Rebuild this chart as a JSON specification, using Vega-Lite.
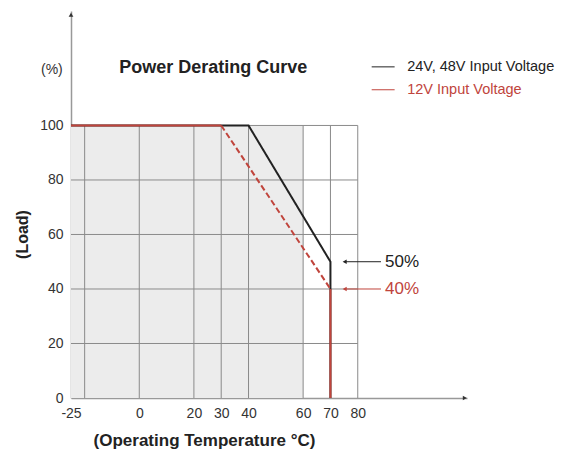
{
  "$schema": "https://vega.github.io/schema/vega-lite/v6.json",
  "width": 396,
  "height": 387,
  "autosize": "none",
  "padding": {"left": 71, "top": 11, "right": 101, "bottom": 59},
  "background": "white",
  "config": {"view": {"stroke": null}, "font": "Liberation Sans"},
  "datasets": {
    "shade": [{"t0": -25, "t1": 60, "l0": 0, "l1": 100}],
    "gridV": [{"t": -20}, {"t": 0}, {"t": 20}, {"t": 30}, {"t": 40}, {"t": 60}, {"t": 70}, {"t": 80}],
    "gridH": [{"l": 20}, {"l": 40}, {"l": 60}, {"l": 80}, {"l": 100}],
    "curves": [
      {"curve": "24V, 48V", "part": "b", "style": "solid", "i": 1, "t": -25, "load": 100},
      {"curve": "24V, 48V", "part": "b", "style": "solid", "i": 2, "t": 40, "load": 100},
      {"curve": "24V, 48V", "part": "b", "style": "solid", "i": 3, "t": 70, "load": 50},
      {"curve": "24V, 48V", "part": "b", "style": "solid", "i": 4, "t": 70, "load": 0},
      {"curve": "12V", "part": "r1", "style": "solid", "i": 1, "t": -25, "load": 100},
      {"curve": "12V", "part": "r1", "style": "solid", "i": 2, "t": 30, "load": 100},
      {"curve": "12V", "part": "r2", "style": "dashed", "i": 1, "t": 30, "load": 100},
      {"curve": "12V", "part": "r2", "style": "dashed", "i": 2, "t": 70, "load": 40},
      {"curve": "12V", "part": "r3", "style": "solid", "i": 1, "t": 70, "load": 40},
      {"curve": "12V", "part": "r3", "style": "solid", "i": 2, "t": 70, "load": 0}
    ],
    "callouts": [
      {"curve": "24V, 48V", "label": "50%", "t0": 75.2, "t1": 88.5, "tx": 90, "load": 50},
      {"curve": "12V", "label": "40%", "t0": 75.2, "t1": 88.5, "tx": 90, "load": 40}
    ],
    "legend": [
      {"curve": "24V, 48V", "label": "24V, 48V  Input Voltage", "t0": 85.1, "t1": 93.5, "tx": 98.1, "load": 121.5},
      {"curve": "12V", "label": "12V Input Voltage", "t0": 85.1, "t1": 93.5, "tx": 98.1, "load": 113.1}
    ],
    "titles": [
      {"text": "Power Derating Curve", "t": 27.1, "load": 121.1}
    ],
    "units": [
      {"text": "(%)", "t": -32, "load": 120.4}
    ],
    "arrowUp": [{"t": -25, "load": 140.6}],
    "arrowRight": [{"t": 119.2, "load": 0}]
  },
  "layer": [
    {
      "data": {"name": "shade"},
      "mark": {"type": "rect", "color": "#ececec"},
      "encoding": {
        "x": {"field": "t0", "type": "quantitative", "scale": {"domain": [-25, 120], "nice": false, "zero": false},
          "axis": {"values": [-25, 0, 20, 30, 40, 60, 70, 80], "ticks": false, "grid": false, "domainColor": "#999999", "domainWidth": 1.5,
            "labelFontSize": 14, "labelColor": "#333333", "labelPadding": 8, "labelFlush": false, "labelExpr": "datum.value + ''",
            "title": "(Operating Temperature °C)", "titleFontSize": 17, "titleFontWeight": "bold", "titleColor": "#222222",
            "titleX": 133, "titleY": 42, "titleBaseline": "middle", "titleAlign": "center"}},
        "x2": {"field": "t1"},
        "y": {"field": "l0", "type": "quantitative", "scale": {"domain": [0, 142], "nice": false},
          "axis": {"values": [0, 20, 40, 60, 80, 100], "ticks": false, "grid": false, "domainColor": "#999999", "domainWidth": 1.5,
            "labelFontSize": 14, "labelColor": "#333333", "labelPadding": 8, "labelFlush": false,
            "title": "(Load)", "titleFontSize": 16, "titleFontWeight": "bold", "titleColor": "#222222",
            "titleX": -49, "titleY": 223, "titleBaseline": "middle", "titleAlign": "center", "titleAngle": -90}},
        "y2": {"field": "l1"}
      }
    },
    {
      "data": {"name": "gridV"},
      "mark": {"type": "rule", "color": "#8a8a8a", "strokeWidth": 1},
      "encoding": {
        "x": {"field": "t", "type": "quantitative"},
        "y": {"datum": 0},
        "y2": {"datum": 100}
      }
    },
    {
      "data": {"name": "gridH"},
      "mark": {"type": "rule", "color": "#8a8a8a", "strokeWidth": 1},
      "encoding": {
        "y": {"field": "l", "type": "quantitative"},
        "x": {"datum": -25},
        "x2": {"datum": 80}
      }
    },
    {
      "data": {"name": "curves"},
      "mark": {"type": "line", "strokeWidth": 2},
      "encoding": {
        "x": {"field": "t", "type": "quantitative"},
        "y": {"field": "load", "type": "quantitative"},
        "order": {"field": "i", "type": "quantitative"},
        "detail": {"field": "part"},
        "color": {"field": "curve", "type": "nominal", "scale": {"domain": ["24V, 48V", "12V"], "range": ["#222222", "#c0443c"]}, "legend": null},
        "strokeDash": {"field": "style", "type": "nominal", "scale": {"domain": ["solid", "dashed"], "range": [[1, 0], [6, 3]]}, "legend": null}
      }
    },
    {
      "data": {"name": "callouts"},
      "layer": [
        {
          "mark": {"type": "rule", "strokeWidth": 1},
          "encoding": {
            "x": {"field": "t0", "type": "quantitative"},
            "x2": {"field": "t1"},
            "y": {"field": "load", "type": "quantitative"},
            "color": {"field": "curve", "type": "nominal", "legend": null}
          }
        },
        {
          "mark": {"type": "point", "shape": "triangle-left", "filled": true, "size": 22, "opacity": 1},
          "encoding": {
            "x": {"field": "t0", "type": "quantitative"},
            "y": {"field": "load", "type": "quantitative"},
            "color": {"field": "curve", "type": "nominal", "legend": null}
          }
        },
        {
          "mark": {"type": "text", "align": "left", "baseline": "middle", "fontSize": 17},
          "encoding": {
            "x": {"field": "tx", "type": "quantitative"},
            "y": {"field": "load", "type": "quantitative"},
            "text": {"field": "label"},
            "color": {"field": "curve", "type": "nominal", "legend": null}
          }
        }
      ]
    },
    {
      "data": {"name": "legend"},
      "layer": [
        {
          "mark": {"type": "rule", "strokeWidth": 1},
          "encoding": {
            "x": {"field": "t0", "type": "quantitative"},
            "x2": {"field": "t1"},
            "y": {"field": "load", "type": "quantitative"},
            "color": {"field": "curve", "type": "nominal", "legend": null}
          }
        },
        {
          "mark": {"type": "text", "align": "left", "baseline": "middle", "fontSize": 14.5},
          "encoding": {
            "x": {"field": "tx", "type": "quantitative"},
            "y": {"field": "load", "type": "quantitative"},
            "text": {"field": "label"},
            "color": {"field": "curve", "type": "nominal", "legend": null}
          }
        }
      ]
    },
    {
      "data": {"name": "titles"},
      "mark": {"type": "text", "fontSize": 18, "fontWeight": "bold", "color": "#222222", "baseline": "middle", "align": "center"},
      "encoding": {"x": {"field": "t", "type": "quantitative"}, "y": {"field": "load", "type": "quantitative"}, "text": {"field": "text"}}
    },
    {
      "data": {"name": "units"},
      "mark": {"type": "text", "fontSize": 14, "color": "#333333", "baseline": "middle", "align": "center"},
      "encoding": {"x": {"field": "t", "type": "quantitative"}, "y": {"field": "load", "type": "quantitative"}, "text": {"field": "text"}}
    },
    {
      "data": {"name": "arrowUp"},
      "mark": {"type": "point", "shape": "triangle-up", "filled": true, "size": 22, "color": "#333333", "opacity": 1},
      "encoding": {"x": {"field": "t", "type": "quantitative"}, "y": {"field": "load", "type": "quantitative"}}
    },
    {
      "data": {"name": "arrowRight"},
      "mark": {"type": "point", "shape": "triangle-right", "filled": true, "size": 22, "color": "#333333", "opacity": 1},
      "encoding": {"x": {"field": "t", "type": "quantitative"}, "y": {"field": "load", "type": "quantitative"}}
    }
  ]
}
